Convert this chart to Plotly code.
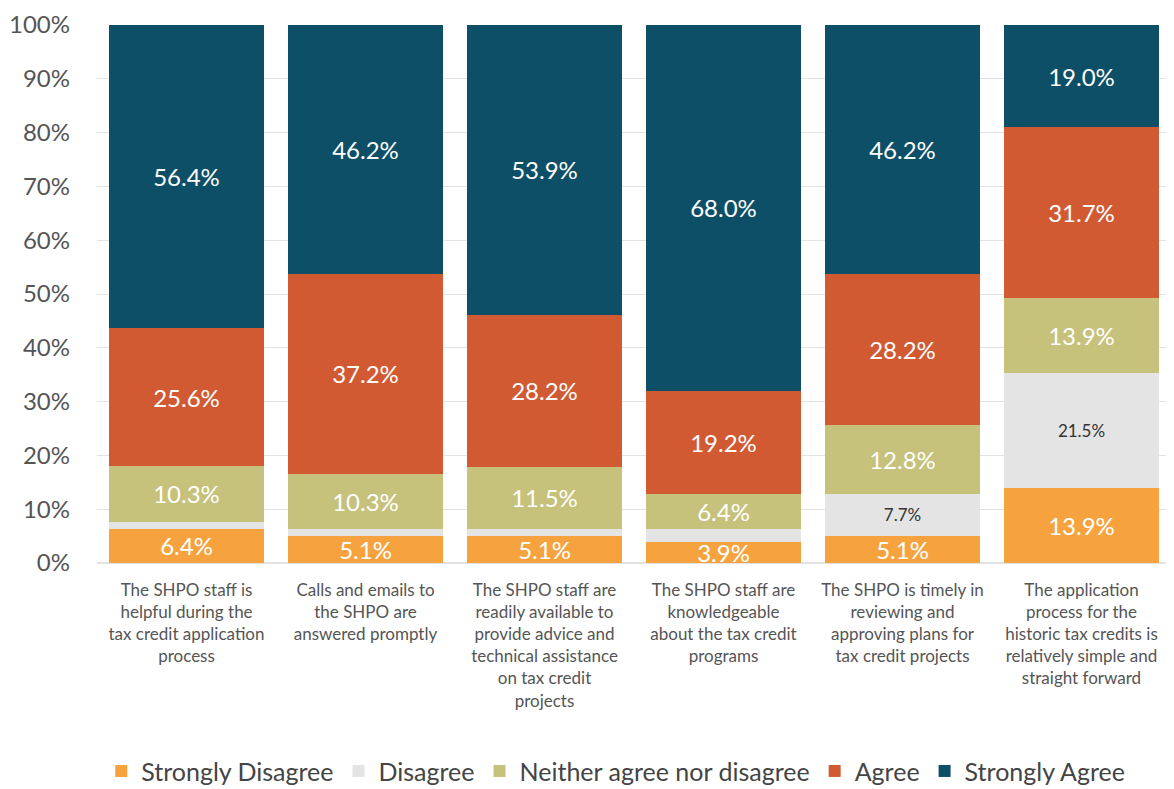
import plotly.graph_objects as go

categories = [
    "The SHPO staff is<br>helpful during the<br>tax credit application<br>process",
    "Calls and emails to<br>the SHPO are<br>answered promptly",
    "The SHPO staff are<br>readily available to<br>provide advice and<br>technical assistance<br>on tax credit<br>projects",
    "The SHPO staff are<br>knowledgeable<br>about the tax credit<br>programs",
    "The SHPO is timely in<br>reviewing and<br>approving plans for<br>tax credit projects",
    "The application<br>process for the<br>historic tax credits is<br>relatively simple and<br>straight forward",
]

strongly_disagree = [6.4, 5.1, 5.1, 3.9, 5.1, 13.9]
disagree = [1.3, 1.2, 1.3, 2.5, 7.7, 21.5]
neither = [10.3, 10.3, 11.5, 6.4, 12.8, 13.9]
agree = [25.6, 37.2, 28.2, 19.2, 28.2, 31.7]
strongly_agree = [56.4, 46.2, 53.9, 68.0, 46.2, 19.0]

series_names = ["Strongly Disagree", "Disagree", "Neither agree nor disagree", "Agree", "Strongly Agree"]
series_values = [strongly_disagree, disagree, neither, agree, strongly_agree]
colors = ["#F6A33F", "#E4E4E4", "#C6C17B", "#D25A33", "#0D4F66"]
label_min = 3  # hide labels on very thin segments

FONT = "Lato, Open Sans, sans-serif"

fig = go.Figure()
for name, vals, col in zip(series_names, series_values, colors):
    is_gray = name == "Disagree"
    texts = [f"{v:.1f}%" if (v >= label_min) else "" for v in vals]
    fig.add_trace(go.Bar(
        x=categories, y=vals, name=name,
        marker=dict(color=col, line=dict(width=0)),
        text=texts, textposition="inside", insidetextanchor="middle",
        textangle=0, constraintext="none",
        textfont=dict(family=FONT, size=17 if is_gray else 24,
                      color="#333333" if is_gray else "white"),
        hoverinfo="skip",
    ))

fig.update_layout(
    barmode="stack",
    bargap=0.135,
    width=1166, height=781,
    margin=dict(l=89, r=3, t=17, b=226, autoexpand=False),
    paper_bgcolor="white", plot_bgcolor="white",
    font=dict(family=FONT, color="#555555"),
    showlegend=True,
    legend=dict(orientation="h", x=0.483, xanchor="center", y=-0.387, yanchor="middle",
                font=dict(size=25, color="#444444"), traceorder="normal",
                itemwidth=30, itemsizing="constant"),
    xaxis=dict(tickfont=dict(size=17, color="#555555"), showline=False, ticks="",
               automargin=False, ticklabelstandoff=15),
    yaxis=dict(range=[0, 100], dtick=10, ticksuffix="%", tickfont=dict(size=24, color="#555555"),
               showgrid=True, gridcolor="#E3E3E3", gridwidth=1, zeroline=True,
               zerolinecolor="#E3E3E3", ticks="", ticklabelstandoff=26, automargin=False),
)

fig.write_html("out.html")
